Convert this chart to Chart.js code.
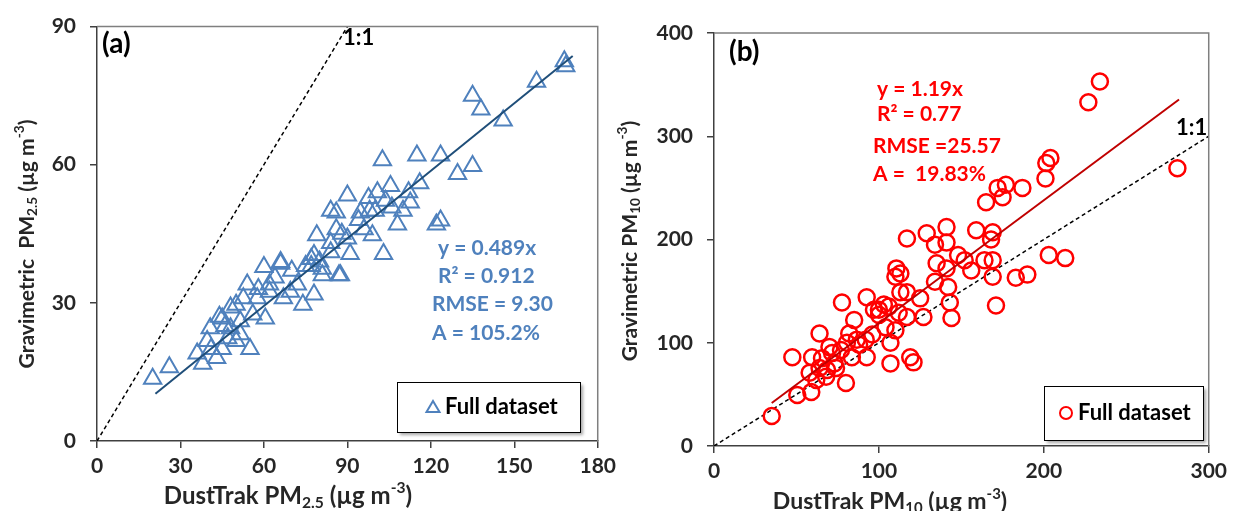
<!DOCTYPE html>
<html>
<head>
<meta charset="utf-8">
<script src="https://cdn.jsdelivr.net/npm/chart.js@4.4.1/dist/chart.umd.min.js"></script>
<style>
  html, body { margin: 0; padding: 0; background: #fff; }
  #wrap { position: relative; width: 1233px; height: 511px; overflow: hidden; }
  #chartA { position: absolute; left: 0; top: 0; }
  #chartB { position: absolute; left: 610px; top: 0; }
</style>
</head>
<body>
<div id="wrap">
  <canvas id="chartA" width="622" height="511"></canvas>
  <canvas id="chartB" width="623" height="511"></canvas>
</div>
<script>
// panel (a): PM2.5
const dustA = [20, 26, 36, 38, 41, 45, 50, 55, 40.7, 44, 48, 52.6, 54, 60.5, 60, 66, 70, 74, 78, 79, 84, 87, 81, 77, 84, 62, 69.5, 57.6, 48, 51.5, 43, 39.6, 51.5, 62, 67, 45, 50, 47, 56, 64, 72, 75,
  102.6, 115, 123.5, 129.6, 116, 112.6, 105.5, 90, 97.6, 100.8, 103.7, 98, 106, 86, 94.7, 108, 122, 123.5, 86, 94, 99, 90, 103, 91, 84, 78, 77, 66, 87.5, 81, 80,
  168, 168.5, 158, 135, 138, 146, 135, 110, 88, 96, 58, 46, 100, 112];
const gravA = [13.5, 16, 19, 16.8, 20, 20, 21.7, 20, 24.5, 27, 29, 31, 34, 26.6, 37.8, 38.5, 37, 29.6, 31.8, 44.7, 50, 36, 37.4, 39.5, 41, 32.4, 32.4, 31, 24.5, 23.2, 18, 21.7, 26, 34, 31, 26.6, 29.6, 22.3, 27.5, 35.5, 34, 38,
  61, 62, 62, 58, 56, 51.8, 55.4, 53.3, 52.8, 54, 52.2, 50, 50.7, 49.6, 49.6, 47, 47, 47.9, 46, 48, 44.7, 44, 40.6, 40.6, 43, 40.4, 38, 38.9, 36, 36, 39,
  82.5, 81.4, 78, 75, 72, 69.6, 59.7, 50, 45, 46, 33, 25, 50, 54];
const slopeA = 0.489;
const fitRangeA = [21, 171];
const xTicksA = [0, 30, 60, 90, 120, 150, 180];
const yTicksA = [0, 30, 60, 90];
const statsA = ['y = 0.489x', 'R\u00b2 = 0.912', 'RMSE = 9.30', 'A = 105.2%'];

// panel (b): PM10
const dustB = [35, 50.5, 59, 47.5, 59.5, 64, 58, 62, 80, 65.5, 71.6, 74, 68.6, 64, 70, 77.6, 85, 82, 80.6, 86.6, 92, 92.6, 83.6, 92.6, 100, 103, 106, 100, 104, 107, 107, 119, 121,
  110.6, 113, 110, 113, 117, 125, 112, 117, 127, 117, 129, 141, 134, 141, 135, 141, 134, 142, 143, 144,
  234, 227, 281, 204, 201.5, 201, 187, 177, 172, 175, 165, 159, 169, 168, 148, 156, 164, 169, 169, 203, 213, 183, 190, 171, 152,
  73, 77, 88, 96, 110, 68, 97];
const gravB = [29, 49.4, 52.3, 86, 86, 109, 71, 64, 61, 85, 90, 75.5, 73.6, 75.5, 96, 139, 122, 109, 100, 103, 103, 86, 86, 144, 132, 137, 135, 127, 115, 100, 80, 86, 81,
  172, 167, 164, 149, 149, 143, 129, 125, 125, 201, 206, 212, 195, 197, 177, 172, 159, 154, 139, 124,
  353, 333, 269, 279, 274, 259, 250, 253, 250, 241, 236, 209, 207, 200, 185, 170, 180, 180, 164, 185, 182, 163, 166, 136, 180,
  80, 93, 98, 108, 112, 67, 132];
const slopeB = 1.19;
const fitRangeB = [35, 282];
const xTicksB = [0, 100, 200, 300];
const yTicksB = [0, 100, 200, 300, 400];
const statsB = ['y = 1.19x', 'R\u00b2 = 0.77', 'RMSE =25.57', 'A =  19.83%'];

const FONT = 'Lato, "Open Sans", sans-serif';
const AXIS_COLOR = '#404040';

function pts(xs, ys) { return xs.map((x, i) => ({ x: x, y: ys[i] })); }

// draw a line of text with sub/superscript pieces, centred on (x, y)
function richText(ctx, x, y, parts, size, rotate) {
  ctx.save();
  ctx.translate(x, y);
  if (rotate) ctx.rotate(-Math.PI / 2);
  ctx.textBaseline = 'middle';
  ctx.textAlign = 'left';
  ctx.fillStyle = '#262626';
  let w = 0;
  parts.forEach(p => {
    const s = p[1] ? size * 0.65 : size;
    ctx.font = 'bold ' + s + 'px ' + FONT;
    w += ctx.measureText(p[0]).width;
  });
  let cx = -w / 2;
  parts.forEach(p => {
    const s = p[1] ? size * 0.65 : size;
    const dy = p[1] === 'sub' ? size * 0.28 : p[1] === 'sup' ? -size * 0.35 : 0;
    ctx.font = 'bold ' + s + 'px ' + FONT;
    ctx.fillText(p[0], cx, dy);
    cx += ctx.measureText(p[0]).width;
  });
  ctx.restore();
}

const decor = {
  id: 'decor',
  afterDraw(chart, args, o) {
    const ctx = chart.ctx;
    const a = chart.chartArea;
    ctx.save();
    // top and right frame of the plot box
    ctx.strokeStyle = '#7f7f7f';
    ctx.lineWidth = 1.5;
    ctx.beginPath();
    ctx.moveTo(a.left, a.top);
    ctx.lineTo(a.right, a.top);
    ctx.lineTo(a.right, a.bottom);
    ctx.stroke();

    // panel letter
    ctx.fillStyle = '#000';
    ctx.font = 'bold 28px ' + FONT;
    ctx.textBaseline = 'middle';
    ctx.textAlign = 'left';
    ctx.fillText(o.letter, o.letterPos[0], o.letterPos[1]);

    // 1:1 label
    ctx.font = 'bold 22px ' + FONT;
    ctx.fillText('1:1', o.onePos[0], o.onePos[1]);

    // fit statistics
    ctx.fillStyle = o.statColor;
    ctx.font = 'bold 21px ' + FONT;
    o.stats.forEach((s, i) => ctx.fillText(s, o.statPos[i][0], o.statPos[i][1]));

    // legend box
    const b = o.legendBox;
    ctx.save();
    ctx.shadowColor = 'rgba(0,0,0,0.35)';
    ctx.shadowOffsetX = 3;
    ctx.shadowOffsetY = 3;
    ctx.shadowBlur = 3;
    ctx.fillStyle = '#fff';
    ctx.fillRect(b[0], b[1], b[2], b[3]);
    ctx.restore();
    ctx.strokeStyle = '#000';
    ctx.lineWidth = 1;
    ctx.strokeRect(b[0] + 0.5, b[1] + 0.5, b[2], b[3]);
    const my = b[1] + b[3] / 2;
    ctx.strokeStyle = o.markerColor;
    ctx.lineWidth = 2;
    ctx.beginPath();
    if (o.marker === 'triangle') {
      const mx = o.markerX;
      ctx.moveTo(mx, my - 6);
      ctx.lineTo(mx + 6.5, my + 5);
      ctx.lineTo(mx - 6.5, my + 5);
      ctx.closePath();
    } else {
      ctx.arc(o.markerX, my, 6, 0, Math.PI * 2);
    }
    ctx.stroke();
    ctx.fillStyle = '#000';
    ctx.font = 'bold 22px ' + FONT;
    ctx.fillText('Full dataset', o.markerX + 12, my);

    // axis titles
    richText(ctx, o.xTitlePos[0], o.xTitlePos[1], o.xTitle, o.xTitleSize, false);
    richText(ctx, o.yTitlePos[0], o.yTitlePos[1], o.yTitle, 21, true);
    ctx.restore();
  }
};

function axis(min, max, ticks, fit, isX) {
  return {
    type: 'linear',
    min: min,
    max: max,
    afterBuildTicks: s => { s.ticks = ticks.map(v => ({ value: v })); },
    afterFit: s => { if (isX) s.height = fit; else s.width = fit; },
    ticks: { color: '#262626', font: { family: FONT, size: 21, weight: 'bold' }, padding: isX ? 6 : 14, maxRotation: 0 },
    grid: { drawOnChartArea: false, drawTicks: true, tickLength: 7, color: AXIS_COLOR, lineWidth: 1.5 },
    border: { display: true, color: AXIS_COLOR, width: 1.5 }
  };
}

function makeChart(id, cfg) {
  return new Chart(document.getElementById(id), {
    type: 'scatter',
    data: {
      datasets: [
        {
          type: 'line', data: [{ x: cfg.fit[0], y: cfg.fit[0] * cfg.slope }, { x: cfg.fit[1], y: cfg.fit[1] * cfg.slope }],
          borderColor: cfg.fitColor, borderWidth: 2, pointRadius: 0, fill: false, order: 0
        },
        {
          data: pts(cfg.xs, cfg.ys), pointStyle: cfg.marker, pointRadius: cfg.radius,
          borderColor: cfg.markerColor, backgroundColor: 'rgba(255,255,255,0)', borderWidth: cfg.markerWidth, order: 1
        },
        {
          type: 'line', data: [{ x: 0, y: 0 }, { x: cfg.oneEnd, y: cfg.oneEnd }],
          borderColor: '#000', borderWidth: 1.5, borderDash: [4, 3], pointRadius: 0, fill: false, order: 2
        }
      ]
    },
    options: {
      responsive: false,
      animation: false,
      layout: { padding: cfg.padding },
      scales: {
        x: axis(cfg.xTicks[0], cfg.xTicks[cfg.xTicks.length - 1], cfg.xTicks, cfg.xFit, true),
        y: axis(cfg.yTicks[0], cfg.yTicks[cfg.yTicks.length - 1], cfg.yTicks, cfg.yFit, false)
      },
      plugins: {
        legend: { display: false },
        tooltip: { enabled: false },
        decor: cfg.decor
      }
    },
    plugins: [decor]
  });
}

makeChart('chartA', {
  xs: dustA, ys: gravA, slope: slopeA, fit: fitRangeA, fitColor: '#1F4E79',
  marker: 'triangle', radius: 10, markerColor: '#4F81BD', markerWidth: 2, oneEnd: 90,
  xTicks: xTicksA, yTicks: yTicksA, xFit: 70, yFit: 97,
  padding: { left: 0, top: 22, right: 24, bottom: 0 },
  decor: {
    letter: '(a)', letterPos: [102, 44], onePos: [343, 38],
    stats: statsA, statColor: '#4F81BD',
    statPos: [[438, 248], [438, 276], [432, 304], [432, 333]],
    legendBox: [397, 382, 183, 50], marker: 'triangle', markerX: 433, markerColor: '#4F81BD',
    xTitle: [['DustTrak PM', ''], ['2.5', 'sub'], [' (\u00b5g m', ''], ['-3', 'sup'], [')', '']],
    xTitlePos: [288, 496], xTitleSize: 24,
    yTitle: [['Gravimetric  PM', ''], ['2.5', 'sub'], [' (\u00b5g m', ''], ['-3', 'sup'], [')', '']],
    yTitlePos: [27, 244]
  }
});

makeChart('chartB', {
  xs: dustB, ys: gravB, slope: slopeB, fit: fitRangeB, fitColor: '#C00000',
  marker: 'circle', radius: 8, markerColor: '#FF0000', markerWidth: 2.5, oneEnd: 300,
  xTicks: xTicksB, yTicks: yTicksB, xFit: 65, yFit: 104,
  padding: { left: 0, top: 33, right: 20, bottom: 0 },
  decor: {
    letter: '(b)', letterPos: [119, 52], onePos: [566, 128],
    stats: statsB, statColor: '#FF0000',
    statPos: [[267, 89], [267, 114], [263, 146], [263, 174]],
    legendBox: [434, 386, 159, 54], marker: 'circle', markerX: 456, markerColor: '#FF0000',
    xTitle: [['DustTrak PM', ''], ['10', 'sub'], [' (\u00b5g m', ''], ['-3', 'sup'], [')', '']],
    xTitlePos: [280, 502], xTitleSize: 23,
    yTitle: [['Gravimetric PM', ''], ['10', 'sub'], [' (\u00b5g m', ''], ['-3', 'sup'], [')', '']],
    yTitlePos: [20, 241]
  }
});
</script>
</body>
</html>
